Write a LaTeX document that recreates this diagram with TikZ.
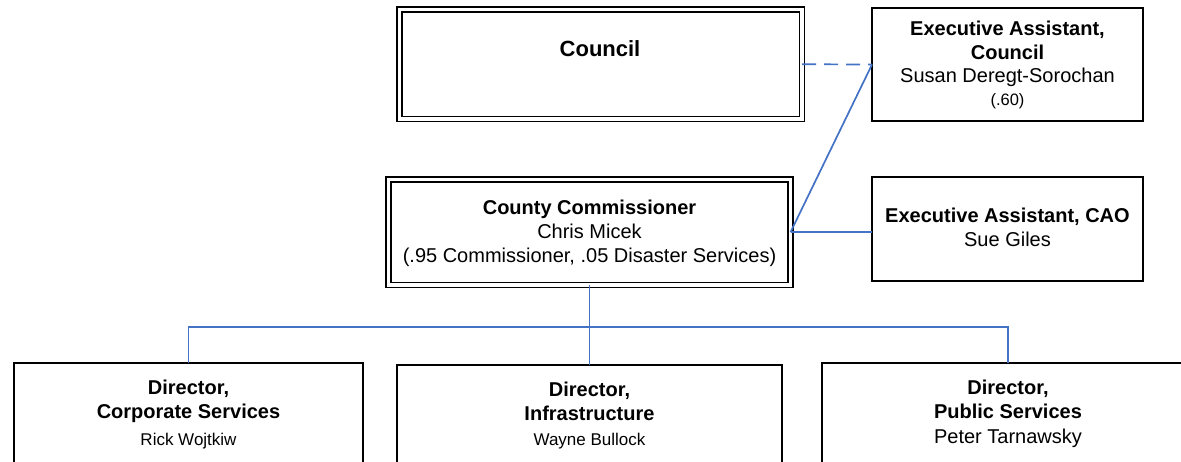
\documentclass[tikz,border=0pt]{standalone}
\usepackage{fontspec}
\setmainfont{Liberation Sans}
\definecolor{linkblue}{RGB}{68,114,196}
\begin{document}
\begin{tikzpicture}[x=1pt,y=-1pt,
  box/.style={draw=black, line width=1.8pt, fill=white, inner sep=0pt, outer sep=0pt},
  dbox/.style={draw=black, line width=1.5pt, double=white, double distance=3.5pt, inner sep=0pt, outer sep=0pt},
  conn/.style={draw=linkblue, line width=1.7pt},
  dconn/.style={conn, dash pattern=on 14pt off 8pt},
  tbig/.style={font=\fontsize{22}{26}\selectfont\bfseries, anchor=base, inner sep=0pt},
  tb/.style={font=\fontsize{20}{24}\selectfont\bfseries, anchor=base, inner sep=0pt},
  tr/.style={font=\fontsize{20}{24}\selectfont, anchor=base, inner sep=0pt},
  ts/.style={font=\fontsize{17}{20}\selectfont, anchor=base, inner sep=0pt},
  tx/.style={font=\fontsize{16.5}{20}\selectfont, anchor=base, inner sep=0pt}]
\useasboundingbox (0,0) rectangle (1181,462);
\clip (0,0) rectangle (1181,462);
\fill[white] (0,0) rectangle (1181,462);

% boxes
\node[dbox, minimum width=402.5pt, minimum height=109.5pt] (council) at (600.75,64.25) {};
\node[box, minimum width=271pt, minimum height=113pt] (eac) at (1007.5,64.5) {};
\node[dbox, minimum width=402pt, minimum height=105.5pt] (comm) at (589.5,232.25) {};
\node[box, minimum width=271pt, minimum height=104pt] (eacao) at (1007.5,229) {};
\node[box, minimum width=349pt, minimum height=140pt] (corp) at (188.5,433) {};
\node[box, minimum width=385pt, minimum height=140pt] (infra) at (589.5,435) {};
\node[box, minimum width=372pt, minimum height=140pt] (pub) at (1008,433) {};

% connectors
\coordinate (bus) at (189,327);
\draw[dconn] (council.east) -- (eac.west);
\draw[conn] (comm.east) -- (eac.west);
\draw[conn] (comm.east) -- (comm.east -| eacao.west);
\draw[conn] (comm.south) -- (infra.north);
\draw[conn] (corp.north) -- (corp.north |- bus) -- (pub.north |- bus) -- (pub.north);

% texts
\node[tbig] (t-council) at (600,57) {Council};

\node[tb] (t-eac1) at (1007.5,36) {Executive Assistant,};
\node[tb] (t-eac2) at (1007.5,60) {Council};
\node[tr] (t-eac3) at (1007.5,83) {Susan Deregt-Sorochan};
\node[tx] (t-eac4) at (1007.5,106) {(.60)};

\node[tb] (t-comm1) at (589.5,215) {County Commissioner};
\node[tr] (t-comm2) at (589.5,239) {Chris Micek};
\node[tr] (t-comm3) at (589.5,263) {(.95 Commissioner, .05 Disaster Services)};

\node[tb] (t-cao1) at (1007.5,223) {Executive Assistant, CAO};
\node[tr] (t-cao2) at (1007.5,247) {Sue Giles};

\node[tb] (t-corp1) at (188.5,395) {Director,};
\node[tb] (t-corp2) at (188.5,418) {Corporate Services};
\node[ts] (t-corp3) at (188.5,445) {Rick Wojtkiw};

\node[tb] (t-inf1) at (589.5,396) {Director,};
\node[tb] (t-inf2) at (589.5,420) {Infrastructure};
\node[ts] (t-inf3) at (589.5,445) {Wayne Bullock};

\node[tb] (t-pub1) at (1008,395) {Director,};
\node[tb] (t-pub2) at (1008,418) {Public Services};
\node[tr] (t-pub3) at (1008,443) {Peter Tarnawsky};
\end{tikzpicture}
\end{document}
